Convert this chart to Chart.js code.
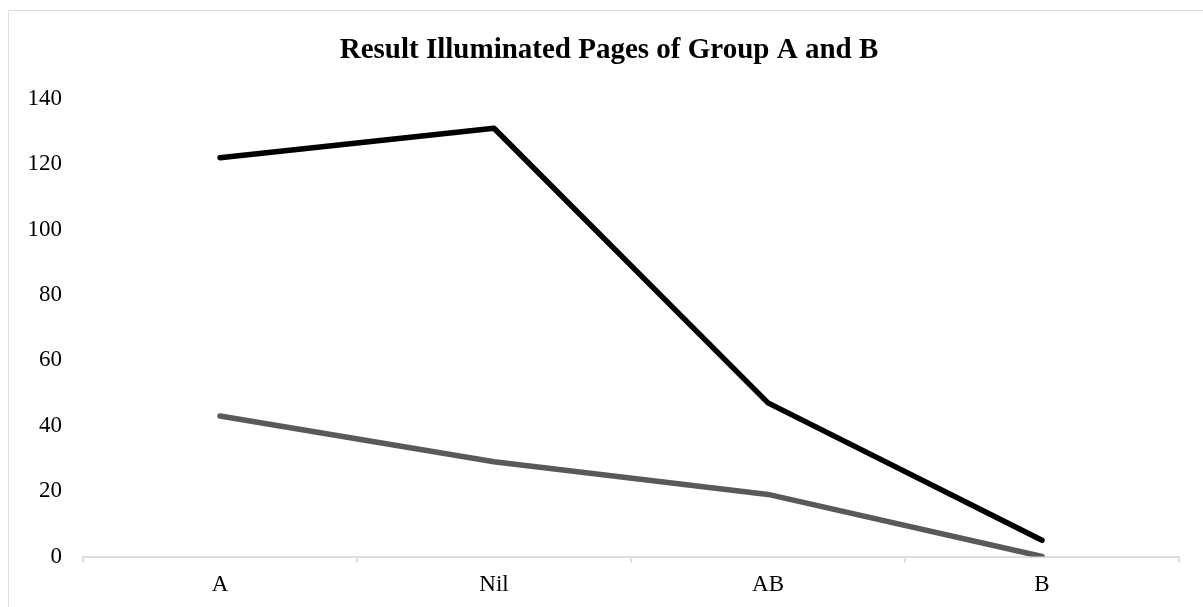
<!DOCTYPE html>
<html>
<head>
<meta charset="utf-8">
<script src="https://cdn.jsdelivr.net/npm/chart.js@4/dist/chart.umd.min.js"></script>
<style>
  html, body { margin: 0; padding: 0; background: #ffffff; }
  #wrap { position: relative; width: 1203px; height: 607px; }
</style>
</head>
<body>
<div id="wrap"><canvas id="chart" width="1203" height="607"></canvas></div>
<script>
// Categories and series values
const categories = ['A', 'Nil', 'AB', 'B'];
const groupA = [122, 131, 47, 5];
const groupB = [43, 29, 19, 0];
const yTicks = [0, 20, 40, 60, 80, 100, 120, 140];

const serif = '"Liberation Serif", "Times New Roman", serif';
const axisGray = '#d9dde5';

// Light frame around the chart (left and top edges visible)
const framePlugin = {
  id: 'frame',
  beforeDraw(chart) {
    const ctx = chart.ctx;
    ctx.save();
    ctx.strokeStyle = axisGray;
    ctx.lineWidth = 1;
    ctx.beginPath();
    ctx.moveTo(8.5, chart.height + 5);
    ctx.lineTo(8.5, 10.5);
    ctx.lineTo(chart.width + 5, 10.5);
    ctx.stroke();
    ctx.restore();
  }
};

new Chart(document.getElementById('chart'), {
  type: 'line',
  data: {
    labels: categories,
    datasets: [
      {
        label: 'Group B',
        data: groupB,
        borderColor: '#595959',
        backgroundColor: '#595959',
        borderWidth: 5.5,
        borderCapStyle: 'round',
        borderJoinStyle: 'round',
        pointRadius: 0,
        pointHoverRadius: 0,
        tension: 0
      },
      {
        label: 'Group A',
        data: groupA,
        borderColor: '#000000',
        backgroundColor: '#000000',
        borderWidth: 5.5,
        borderCapStyle: 'round',
        borderJoinStyle: 'round',
        pointRadius: 0,
        pointHoverRadius: 0,
        tension: 0
      }
    ]
  },
  options: {
    responsive: false,
    animation: false,
    events: [],
    layout: { padding: { left: 15, right: 0, top: 0, bottom: 0 } },
    plugins: {
      legend: { display: false },
      tooltip: { enabled: false },
      title: {
        display: true,
        text: 'Result Illuminated Pages of Group A and B',
        color: '#000000',
        font: { family: serif, size: 29, weight: 'bold', lineHeight: 1.2 },
        padding: { top: 33, bottom: 31 }
      }
    },
    scales: {
      x: {
        offset: true,
        grid: {
          offset: true,
          drawOnChartArea: false,
          drawTicks: true,
          tickLength: 6,
          color: axisGray,
          lineWidth: 2
        },
        border: { display: true, color: axisGray, width: 2 },
        ticks: {
          color: '#000000',
          font: { family: serif, size: 23, lineHeight: 1.15 },
          padding: 9,
          maxRotation: 0
        }
      },
      y: {
        min: 0,
        max: 140,
        afterBuildTicks(scale) {
          scale.ticks = yTicks.map(v => ({ value: v }));
        },
        afterFit(scale) { scale.width = 68; },
        grid: { display: false, drawTicks: false },
        border: { display: false },
        ticks: {
          color: '#000000',
          font: { family: serif, size: 23 },
          padding: 21
        }
      },
      // empty right-hand margin beside the plot
      yRight: {
        type: 'linear',
        position: 'right',
        display: true,
        afterFit(scale) { scale.width = 24; },
        grid: { display: false, drawTicks: false },
        border: { display: false },
        ticks: { display: false }
      }
    }
  },
  plugins: [framePlugin]
});
</script>
</body>
</html>
